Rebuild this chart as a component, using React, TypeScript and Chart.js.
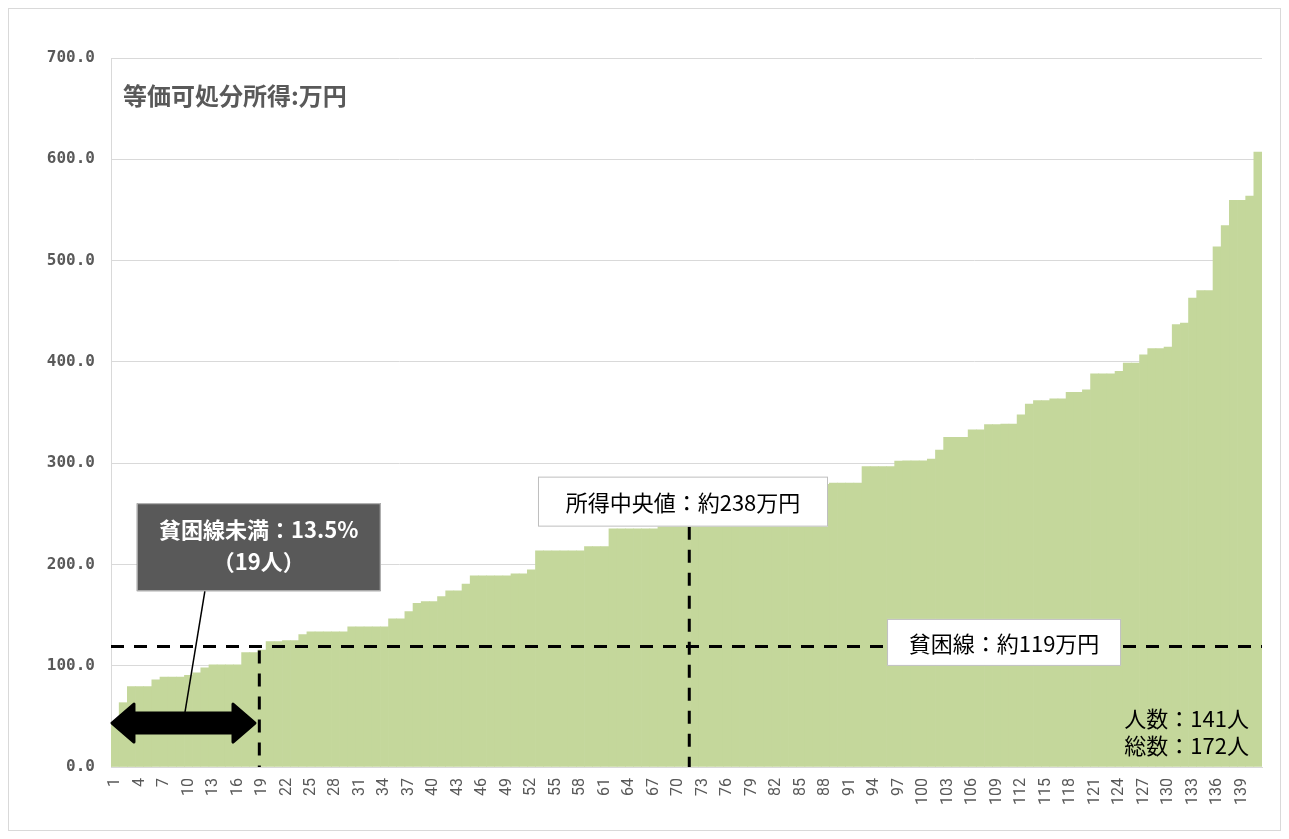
import React, { useEffect, useRef } from 'react';
import { Chart, registerables } from 'chart.js';

Chart.register(...registerables);

// ---- data ----
const CATEGORIES: string[] = Array.from({ length: 141 }, (_, i) => String(i + 1));

const INCOME: number[] = [
  44.0, 63.5, 79.4, 79.4, 79.4, 86.0, 88.8, 88.8, 88.8, 90.5,
  93.0, 98.0, 100.8, 100.8, 100.8, 100.8, 113.0, 113.0, 115.5, 123.8,
  123.8, 124.8, 124.8, 130.7, 133.4, 133.4, 133.4, 133.4, 133.4, 138.3,
  138.3, 138.3, 138.3, 138.3, 146.2, 146.2, 153.5, 161.7, 163.4, 163.4,
  168.3, 174.0, 174.0, 180.5, 188.7, 188.7, 188.7, 188.7, 188.7, 190.7,
  190.7, 194.7, 213.4, 213.4, 213.4, 213.4, 213.4, 213.4, 217.7, 217.7,
  217.7, 235.2, 235.2, 235.2, 235.2, 235.2, 235.2, 237.5, 237.5, 237.5,
  238.0, 240.0, 241.0, 244.0, 246.0, 249.0, 250.0, 252.0, 256.0, 258.0,
  260.0, 262.0, 265.0, 268.0, 270.0, 272.0, 275.0, 279.0, 280.3, 280.3,
  280.3, 280.3, 296.7, 296.7, 296.7, 296.7, 302.0, 302.4, 302.4, 302.4,
  304.0, 313.0, 325.4, 325.4, 325.4, 333.0, 333.0, 338.0, 338.0, 338.6,
  338.6, 347.8, 358.4, 361.7, 361.7, 363.6, 363.6, 370.0, 370.0, 372.5,
  388.3, 388.3, 388.3, 390.6, 398.9, 398.9, 407.0, 413.0, 413.0, 414.7,
  436.8, 438.4, 463.0, 470.3, 470.3, 513.5, 534.6, 559.6, 559.6, 563.6,
  607.0,
];

const Y_TICKS: number[] = [0, 100, 200, 300, 400, 500, 600, 700];

const TITLE_TEXT = '等価可処分所得:万円';
const POVERTY_LINE = 119;
const POVERTY_LABEL = '貧困線：約119万円';
const MEDIAN_LABEL = '所得中央値：約238万円';
const BELOW_LABEL_1 = '貧困線未満：13.5%';
const BELOW_LABEL_2 = '（19人）';
const COUNT_LABEL_1 = '人数：141人';
const COUNT_LABEL_2 = '総数：172人';

const CJK = '"Noto Sans CJK JP", "Noto Sans", sans-serif';

const annotationPlugin = {
  id: 'povertyAnnotations',
  afterDatasetsDraw(chart: any) {
    const { ctx, chartArea, scales } = chart;
    const x = scales.x;
    const y = scales.y;
    const px = (i: number) => x.getPixelForValue(i);
    const py = (v: number) => y.getPixelForValue(v);
    ctx.save();

    // title inside plot
    ctx.font = `bold 24px ${CJK}`;
    ctx.fillStyle = '#595959';
    ctx.textAlign = 'left';
    ctx.textBaseline = 'middle';
    ctx.fillText(TITLE_TEXT, chartArea.left + 12, chartArea.top + 38);

    // dashed lines
    ctx.strokeStyle = '#000000';
    ctx.lineWidth = 3;
    ctx.setLineDash([13, 10]);
    const yPov = py(POVERTY_LINE);
    ctx.beginPath();
    ctx.moveTo(chartArea.left, yPov);
    ctx.lineTo(chartArea.right, yPov);
    ctx.stroke();

    const xPovV = px(17.67);
    ctx.beginPath();
    ctx.moveTo(xPovV, yPov + 4);
    ctx.lineTo(xPovV, chartArea.bottom);
    ctx.stroke();

    const medBoxCx = px(69.57);
    const medBoxCy = py(262);
    const medBoxW = 290;
    const medBoxH = 50;
    const xMed = px(70.34);
    ctx.beginPath();
    ctx.moveTo(xMed, medBoxCy + medBoxH / 2);
    ctx.lineTo(xMed, chartArea.bottom);
    ctx.stroke();
    ctx.setLineDash([]);

    // white label boxes
    const whiteBox = (cx: number, cy: number, w: number, h: number, text: string) => {
      ctx.fillStyle = '#ffffff';
      ctx.fillRect(cx - w / 2, cy - h / 2, w, h);
      ctx.strokeStyle = '#bfbfbf';
      ctx.lineWidth = 1;
      ctx.strokeRect(cx - w / 2 + 0.5, cy - h / 2 + 0.5, w - 1, h - 1);
      ctx.fillStyle = '#000000';
      ctx.font = `22px ${CJK}`;
      ctx.textAlign = 'center';
      ctx.textBaseline = 'middle';
      ctx.fillText(text, cx, cy + 1);
    };
    whiteBox(medBoxCx, medBoxCy, medBoxW, medBoxH, MEDIAN_LABEL);
    whiteBox(px(108.9), py(123), 234, 47, POVERTY_LABEL);

    // double-headed arrow
    const xL = px(-0.38);
    const xR = px(17.14);
    const yA = py(43.4);
    const headW = 22;
    const headH = 19;
    const shaftH = 10;
    ctx.fillStyle = '#000000';
    ctx.strokeStyle = '#000000';
    ctx.lineWidth = 3;
    ctx.lineJoin = 'round';
    ctx.beginPath();
    ctx.moveTo(xL, yA);
    ctx.lineTo(xL + headW, yA - headH);
    ctx.lineTo(xL + headW, yA - shaftH);
    ctx.lineTo(xR - headW, yA - shaftH);
    ctx.lineTo(xR - headW, yA - headH);
    ctx.lineTo(xR, yA);
    ctx.lineTo(xR - headW, yA + headH);
    ctx.lineTo(xR - headW, yA + shaftH);
    ctx.lineTo(xL + headW, yA + shaftH);
    ctx.lineTo(xL + headW, yA + headH);
    ctx.closePath();
    ctx.fill();
    ctx.stroke();

    // dark callout box
    const dCx = px(17.6);
    const dCy = py(217);
    const dW = 244;
    const dH = 88;
    ctx.lineWidth = 1.5;
    ctx.beginPath();
    ctx.moveTo(px(11.0), dCy + dH / 2);
    ctx.lineTo(px(8.56), py(54));
    ctx.stroke();

    ctx.fillStyle = '#595959';
    ctx.fillRect(dCx - dW / 2, dCy - dH / 2, dW, dH);
    ctx.strokeStyle = '#bfbfbf';
    ctx.lineWidth = 1;
    ctx.strokeRect(dCx - dW / 2 + 0.5, dCy - dH / 2 + 0.5, dW - 1, dH - 1);
    ctx.fillStyle = '#ffffff';
    ctx.font = `bold 22px ${CJK}`;
    ctx.textAlign = 'center';
    ctx.textBaseline = 'middle';
    ctx.fillText(BELOW_LABEL_1, dCx, dCy - 18);
    ctx.fillText(BELOW_LABEL_2, dCx, dCy + 14);

    // counts at bottom right
    ctx.fillStyle = '#000000';
    ctx.font = `22px ${CJK}`;
    ctx.textAlign = 'right';
    ctx.fillText(COUNT_LABEL_1, chartArea.right - 13, py(48));
    ctx.fillText(COUNT_LABEL_2, chartArea.right - 13, py(21.5));

    ctx.restore();
  },
};

export default function App() {
  const canvasRef = useRef<HTMLCanvasElement | null>(null);

  useEffect(() => {
    if (!canvasRef.current) return;
    const chart = new Chart(canvasRef.current, {
      type: 'bar',
      data: {
        labels: CATEGORIES,
        datasets: [
          {
            data: INCOME,
            backgroundColor: '#c4d79b',
            borderWidth: 0,
            barPercentage: 1,
            categoryPercentage: 1,
          },
        ],
      },
      options: {
        animation: false,
        responsive: false,
        maintainAspectRatio: false,
        layout: { padding: { top: 50, right: 19, left: 0, bottom: 0 } },
        plugins: {
          legend: { display: false },
          tooltip: { enabled: false },
          title: { display: false },
        },
        scales: {
          x: {
            type: 'category',
            grid: { display: false, drawTicks: false },
            border: { display: true, color: '#d9d9d9', width: 1 },
            ticks: {
              autoSkip: false,
              minRotation: 90,
              maxRotation: 90,
              padding: 11,
              color: '#595959',
              font: { family: 'Roboto', size: 16 },
              callback: (_v: any, idx: number) => (idx % 3 === 0 ? CATEGORIES[idx] : ''),
            },
            afterFit: (scale: any) => {
              scale.height = 64;
              scale.paddingLeft = 0;
              scale.paddingRight = 0;
            },
          },
          y: {
            min: 0,
            max: 700,
            afterBuildTicks: (scale: any) => {
              scale.ticks = Y_TICKS.map((v) => ({ value: v }));
            },
            grid: { color: '#d9d9d9', lineWidth: 1, drawTicks: false },
            border: { display: true, color: '#d9d9d9', width: 1 },
            ticks: {
              padding: 16,
              color: '#595959',
              font: { family: '"DejaVu Sans Mono"', size: 16, weight: 'bold' },
              callback: (v: any) => Number(v).toFixed(1),
            },
            afterFit: (scale: any) => {
              scale.width = 103;
              scale.paddingTop = 0;
              scale.paddingBottom = 0;
            },
          },
        },
      },
      plugins: [annotationPlugin],
    });
    return () => chart.destroy();
  }, []);

  return (
    <div
      style={{
        position: 'relative',
        width: 1273,
        height: 823,
        outline: '1px solid #d9d9d9',
        outlineOffset: -1,
        background: '#ffffff',
      }}
    >
      <canvas ref={canvasRef} width={1273} height={823} style={{ display: 'block' }} />
    </div>
  );
}
